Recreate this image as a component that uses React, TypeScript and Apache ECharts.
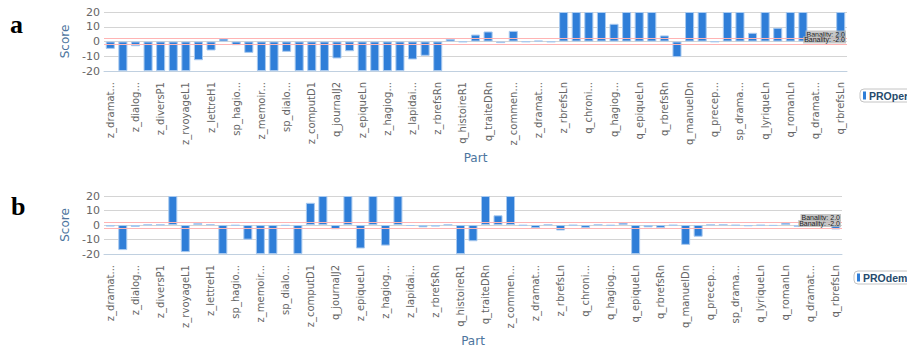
import React, { useEffect, useRef } from "react";
import * as echarts from "echarts";

const categories: string[] = [
  "z_dramat...", "z_dramaP1", "z_dialog...", "z_dialogL1", "z_diversP1", "z_diversR1",
  "z_rvoyageL1", "z_rvoyageR1", "z_lettreH1", "z_lettreL1", "sp_hagio...", "sp_hagioL1",
  "z_memoir...", "z_memoirL1", "sp_dialo...", "sp_dialoL1", "z_computD1", "z_computR1",
  "q_journalJ2", "q_journalJ1", "z_epiqueLn", "z_epiqueRn", "z_hagiog...", "z_hagioRn",
  "z_lapidai...", "z_lapidaiRn", "z_rbrefsRn", "z_rbrefsDn", "q_histoireR1", "q_histoireRn",
  "q_traiteDRn", "q_traiteLn", "z_commen...", "z_commenLn", "z_dramat...", "z_dramaLn",
  "z_rbrefsLn", "q_chroniRn", "q_chroni...", "q_chroniLn", "q_hagiog...", "q_hagioRn",
  "q_epiqueLn", "q_epiqueRn", "q_rbrefsRn", "q_manuelRn", "q_manuelDn", "q_manuelLn",
  "q_precep...", "q_precepLn", "sp_drama...", "sp_dramaLn", "q_lyriqueLn", "q_lyriqueRn",
  "q_romanLn", "q_romanRn", "q_dramat...", "q_dramaLn", "q_rbrefsLn",
];

const proper: number[] = [
  -5, -20, -3.2, -20, -20, -20, -20, -12.7, -6.1, 2,
  -2.5, -7.7, -20, -20, -7, -20, -20, -20, -11.5, -6.6,
  -20, -20, -20, -20, -12.2, -9.7, -20, 1.8, -0.4, 4.7,
  6.8, -1.1, 7.2, -0.3, 0.6, -0.4, 20, 20, 20, 20,
  12, 20, 20, 20, 4.1, -10.6, 20, 20, -0.3, 20,
  20, 5.9, 20, 9.3, 20, 20, 0.3, 0.3, 20,
];

const prodem: number[] = [
  -1.1, -17.3, -1.3, 0.3, 0.3, 20, -18.7, 1.3, 0.5, -20,
  -0.4, -10.1, -20, -20, -0.5, -20, 15.3, 20, -2.9, 20,
  -16.2, 20, -14.2, 20, -0.7, -1.6, -1.1, 0.3, -20, -11.2,
  20, 6.7, 20, -0.4, -2.2, 0.3, -3.8, -0.3, -2, 0.3,
  -0.4, 1.6, -20, -1.6, -2, -0.3, -13.7, -8.1, 0.2, 0.3,
  -0.3, -0.9, -0.3, -0.6, 1.6, -1.3, 0.3, -0.5, -3.1,
];

const seriesNames = ["PROper", "PROdem"];
const banality: number[] = [2, -2];
const yTicks = { min: -20, max: 20, interval: 10 };

const FONT = "DejaVu Sans";

function xAxisFor(gridIndex: number) {
  return {
    type: "category" as const,
    gridIndex,
    data: categories,
    name: "Part",
    nameLocation: "middle" as const,
    nameGap: 81,
    nameTextStyle: { color: "#4d759e", fontSize: 12, fontFamily: FONT, verticalAlign: "top" },
    axisLine: { onZero: false, lineStyle: { color: "#C0D0E0" } },
    axisTick: { length: 4, lineStyle: { color: "#C0D0E0" } },
    axisLabel: {
      interval: 1,
      rotate: 90,
      margin: 11,
      fontSize: 10,
      color: "#666",
      fontFamily: FONT,
    },
  };
}

function yAxisFor(gridIndex: number) {
  return {
    type: "value" as const,
    gridIndex,
    min: yTicks.min,
    max: yTicks.max,
    interval: yTicks.interval,
    name: "Score",
    nameLocation: "middle" as const,
    nameGap: 29,
    nameRotate: 90,
    nameTextStyle: { color: "#4d759e", fontSize: 12, fontFamily: FONT },
    axisLine: { show: false },
    axisTick: { show: false },
    axisLabel: { fontSize: 11, color: "#666", fontFamily: FONT, margin: 4 },
    splitLine: { lineStyle: { color: "#d4d4d4" } },
  };
}

function barSeries(name: string, data: number[], idx: number) {
  return {
    name,
    type: "bar" as const,
    xAxisIndex: idx,
    yAxisIndex: idx,
    data,
    barCategoryGap: "28%",
    itemStyle: { color: "#2f7ed8", borderColor: "#a8c9ef", borderWidth: 1 },
    markLine: {
      silent: true,
      symbol: "none",
      lineStyle: { color: "#ffb4b4", type: "solid", width: 1 },
      label: {
        position: "insideEndTop",
        distance: 1,
        fontSize: 7,
        fontFamily: "Liberation Sans",
        color: "#222",
        backgroundColor: "rgba(185,185,185,0.8)",
        padding: [0, 1, 0, 1],
        formatter: (p: any) => "Banality: " + Number(p.value).toFixed(1),
      },
      data: banality.map((v) => ({ yAxis: v })),
    },
  };
}

function legendFor(name: string, left: number, top: number) {
  return {
    data: [name],
    left,
    top,
    orient: "horizontal" as const,
    icon: "rect",
    itemWidth: 3,
    itemHeight: 8,
    itemGap: 4,
    itemStyle: { borderWidth: 0 },
    padding: [1, 3, 1, 3],
    borderColor: "#c4c4c4",
    borderWidth: 1,
    borderRadius: 4,
    textStyle: {
      fontSize: 10.5,
      fontWeight: "bold",
      color: "#274b6d",
      fontFamily: "Liberation Sans",
      padding: [0, 0, 0, -2],
    },
  };
}

export default function App() {
  const ref = useRef<HTMLDivElement>(null);
  useEffect(() => {
    if (!ref.current) return;
    const chart = echarts.init(ref.current, undefined, { renderer: "svg" });
    chart.setOption({
      animation: false,
      grid: [
        { left: 104, top: 12, right: 60, height: 59 },
        { left: 104, top: 196, right: 65, height: 60 },
      ],
      xAxis: [xAxisFor(0), xAxisFor(1)],
      yAxis: [yAxisFor(0), yAxisFor(1)],
      legend: [legendFor(seriesNames[0], 860, 89), legendFor(seriesNames[1], 854, 271)],
      series: [barSeries(seriesNames[0], proper, 0), barSeries(seriesNames[1], prodem, 1)],
      graphic: [
        {
          type: "text",
          x: 10,
          y: 11,
          style: { text: "a", font: 'bold 26px "Liberation Serif"', fill: "#000" },
        },
        {
          type: "text",
          x: 11,
          y: 193,
          style: { text: "b", font: 'bold 26px "Liberation Serif"', fill: "#000" },
        },
      ],
    });
    return () => chart.dispose();
  }, []);
  return (
    <div
      ref={ref}
      style={{ position: "fixed", left: 0, top: 0, width: 907, height: 348, background: "#fff" }}
    />
  );
}
